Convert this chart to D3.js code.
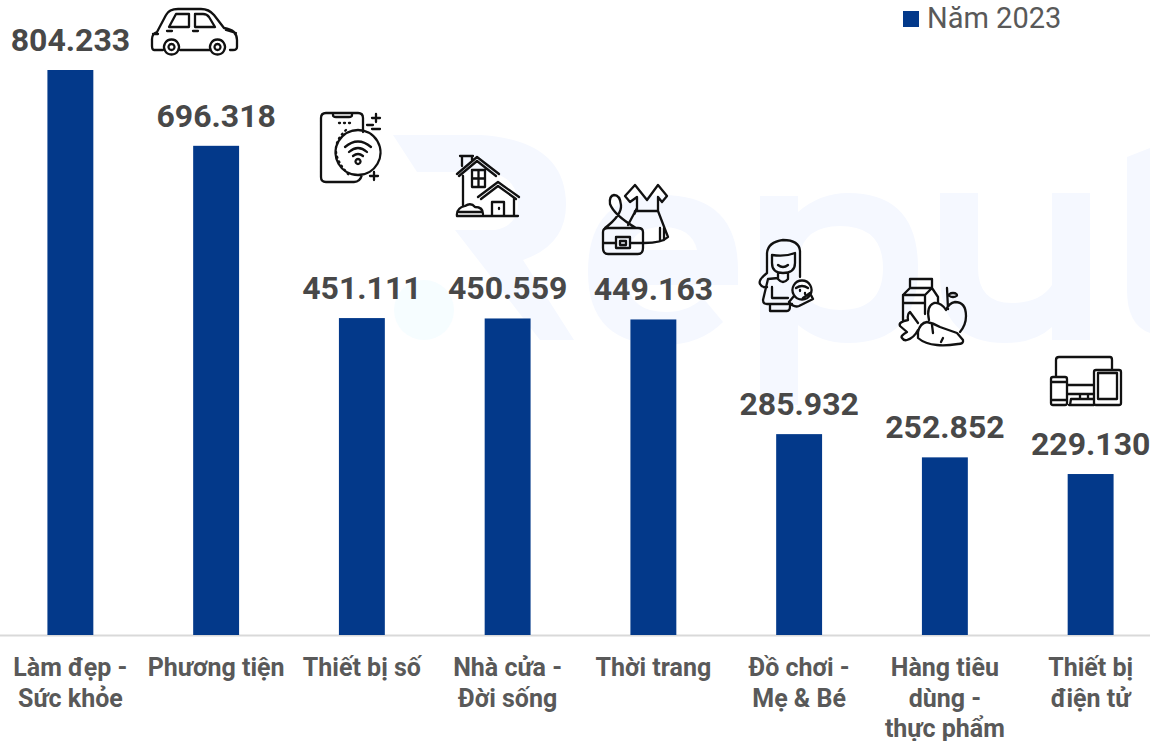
<!DOCTYPE html>
<html><head><meta charset="utf-8">
<script src="https://cdn.jsdelivr.net/npm/d3@7"></script>
<style>html,body{margin:0;padding:0;background:#fff}svg{display:block}text{font-family:Roboto,sans-serif}</style>
</head><body><svg id="c" width="1150" height="741"></svg>
<script>
const categories = ["Làm đẹp - Sức khỏe","Phương tiện","Thiết bị số","Nhà cửa - Đời sống","Thời trang","Đồ chơi - Mẹ & Bé","Hàng tiêu dùng - thực phẩm","Thiết bị điện tử"];
const categoryLines = [["Làm đẹp -","Sức khỏe"],["Phương tiện"],["Thiết bị số"],["Nhà cửa -","Đời sống"],["Thời trang"],["Đồ chơi -","Mẹ & Bé"],["Hàng tiêu","dùng -","thực phẩm"],["Thiết bị","điện tử"]];
const values2023 = [804233,696318,451111,450559,449163,285932,252852,229130];
const valueLabels = ["804.233","696.318","451.111","450.559","449.163","285.932","252.852","229.130"];
const seriesName = "Năm 2023";

const iconPaths = [
 // car
 "M156 50H154Q152 50 152 46V39Q152 34 157 32L166 15Q169 9 178 9H201Q209 9 214 15L224 28Q237 30 237 40V47Q237 50 233 50H230M210 50H180M163 50H156M169 27L176 14H189V27ZM195 14H203Q207 14 209 17L215 27H195ZM167 31H172M193 31H198M226 30L236 33M153 34H158",
 "M171.5 39.500a7.500 7.500 0 1 0 .01 0ZM171.500 44a3 3 0 1 0 .01 0ZM217.500 39.500a7.500 7.500 0 1 0 .01 0ZM217.500 44a3 3 0 1 0 .01 0Z",
 // phone
 "M363 132V118Q363 113 358 113H326Q321 113 321 118V177Q321 182 326 182H354Q360 182 362 175M333 113V115Q333 117 336 117H349Q352 117 352 115V113M358 130a22.500 22.500 0 1 0 .01 0ZM345 147Q358 136 371 147M349 152Q358 144 367 152M353 156Q358 152 363 156M358 159a2.500 2.500 0 1 0 .01 0ZM376 114V122M372 118H380M374 172V180M370 176H378M367 125H373M372 129H380",
 "M339 123H352",
 "M346 130Q324 150 350 176",
 // house
 "M457 174L477 157L499 174M459 176L477 161L496 176M463 176V206M462 166V156H472V160M460 156H473M472 170H485V187H472ZM478.500 170V187M472 178.500H485M478 197L498 182L519 197M481 199L498 186L516 199M492 216V202H504V216M514 198V216M457 216H518M457 216Q456 208 465 206Q471 202 475 207Q483 207 483 214M459 212H482M499 208V209",
 // dress and bag
 "M635 185L625 196L630 202L637 197V211H658V197L662 202L667 196L658 185L647 200ZM635 211Q633 218 637 208M658 211L668 237Q662 243 644 243M660 228V241M664 228V240M605 228Q622 215 621 205Q620 195 614 195Q609 196 610 204Q614 215 636 228M628 225L637 208M603 232Q603 228 608 228H638Q643 228 643 232V248Q643 254 638 254H608Q603 254 603 248ZM603 243H616M630 243H643M616 237H630V248H616ZM620 241H626V245H620Z",
 // mother and baby
 "M767 273V253Q768 242 783 240Q799 240 800 251V277M767 273Q758 280 760 284Q762 288 767 287M772 255Q785 257 795 253V263Q795 273 783 273Q772 273 772 263ZM778 265Q783 269 788 265M778 273V279Q783 285 788 279V273M778 278L768 279L763 300Q763 304 767 304H792M772 287V298H788M770 304V311H787Q790 311 790 306M802 280.500a9.500 9.500 0 1 0 .01 0ZM794 296L789 302Q794 308 799 306L813 299L810 293L803 298M796 288Q802 284 808 288M800 290V291M805 293V294",
 // food
 "M910 279H932V288H910ZM910 288L903 295V320M932 288L938 297V303M925 295V314M932 288L925 295M903 295H925M903 303H925M918 323L910 312Q907 314 908 320Q898 322 900 326L907 332Q900 336 902 338Q904 341 907 340Q914 338 918 330M918 332Q920 323 927 322Q933 323 940 327L957 333L963 340Q964 344 958 344Q945 346 937 345Q925 344 918 338ZM932 325L933 333M943 338L941 342M929 320Q926 306 934 303Q941 302 946 310Q949 303 955 302Q966 302 966 316Q966 325 960 332M947 288L948 309M953 293a4 2 0 1 0 .01 0Z",
 // devices
 "M1056 376V360Q1056 357 1059 357H1110Q1112 357 1112 360V370M1053 377H1065Q1067 377 1067 379V403Q1067 405 1065 405H1053Q1051 405 1051 403V379Q1051 377 1053 377ZM1051 382H1067M1051 400H1067M1067 385H1094M1067 394H1094M1096 370H1119Q1121 370 1121 372V403Q1121 405 1119 405H1096Q1094 405 1094 403V372Q1094 370 1096 370ZM1098 373H1117V399H1098ZM1080 394V399M1088 394V399M1069 405H1094M1070 405L1071 399H1094"
];
const dottedIcons = [3,4];

const watermarkPaths = [
 "M393 135H480Q566 140 566 205Q566 245 523 260L574 340H540L455 230H495Q520 225 518 200Q514 172 480 172H417Z",
 "M738 285V270Q738 195 662 195Q588 195 588 272Q588 345 664 345Q700 345 723 322L703 298Q688 312 666 312Q632 312 628 285ZM628 250H697Q692 227 662 227Q634 227 628 250Z",
 "M760 196H798V212Q820 193 848 193Q918 193 918 268Q918 343 848 343Q820 343 798 325V405H760ZM840 226Q798 226 798 268Q798 310 840 310Q883 310 883 268Q883 226 840 226Z",
 "M940 193H978V268Q978 303 1012 303Q1040 303 1052 285V193H1090V340H1052V327Q1035 343 1005 343Q940 343 940 275Z",
 "M1127 157L1150 148V333Q1127 325 1127 290Z"
];

const svg = d3.select("#c");
const W = 1150;

const wm = svg.append("g").attr("fill","#f5f8ff").attr("fill-rule","evenodd");
wm.selectAll("path").data(watermarkPaths).join("path").attr("d",d=>d);
wm.append("circle").attr("cx",424).attr("cy",310).attr("r",30).attr("fill","#f6fdff");

const x = d3.scaleBand().domain(categories).range([-2.5,1163.5]).paddingInner(0.685).paddingOuter(0.3425);
const y = d3.scaleLinear().domain([0,804233]).range([635,70]);

svg.append("line").attr("x1",0).attr("x2",W).attr("y1",635.5).attr("y2",635.5).attr("stroke","#d9d9d9").attr("stroke-width",2);

svg.selectAll("rect.bar").data(values2023).join("rect").attr("class","bar")
  .attr("x",(d,i)=>x(categories[i])).attr("width",x.bandwidth())
  .attr("y",d=>y(d)).attr("height",d=>y(0)-y(d)).attr("fill","#03398a");

svg.selectAll("text.val").data(values2023).join("text").attr("class","val")
  .attr("x",(d,i)=>x(categories[i])+x.bandwidth()/2).attr("y",d=>y(d)-19)
  .attr("text-anchor","middle").attr("font-size",32).attr("font-weight",700).attr("fill","#484848")
  .text((d,i)=>valueLabels[i]);

const labels = svg.selectAll("text.cat").data(categories).join("text").attr("class","cat")
  .attr("text-anchor","middle").attr("font-size",25).attr("font-weight",700).attr("fill","#595959");
labels.each(function(c,i){
  d3.select(this).selectAll("tspan").data(categoryLines[i]).join("tspan")
    .attr("x",x(c)+x.bandwidth()/2).attr("y",(t,j)=>676+j*30.5).text(t=>t);
});

svg.append("rect").attr("x",903).attr("y",11).attr("width",16).attr("height",16).attr("fill","#03398a");
svg.append("text").attr("x",927).attr("y",28).attr("font-size",29).attr("fill","#595959").text(seriesName);

svg.append("g").attr("fill","none").attr("stroke","#111").attr("stroke-width",2.3).attr("stroke-linecap","round").attr("stroke-linejoin","round")
  .selectAll("path").data(iconPaths).join("path").attr("d",d=>d)
  .attr("stroke-dasharray",(d,i)=>dottedIcons.includes(i)?"1 4":null);
</script></body></html>
